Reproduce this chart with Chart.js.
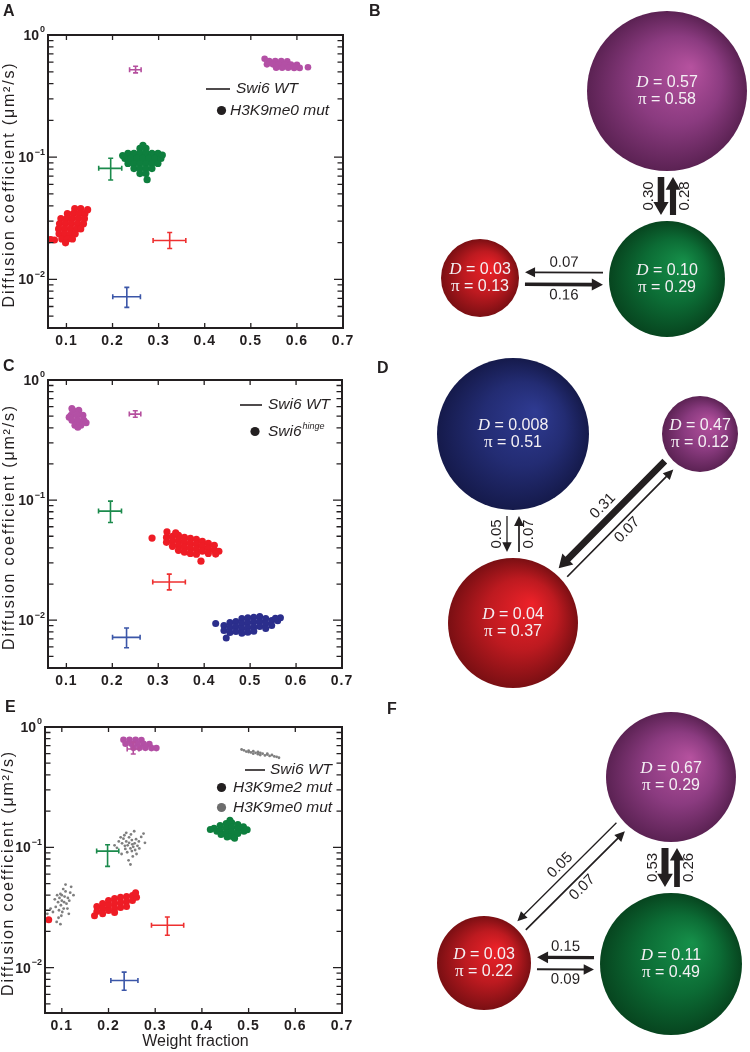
<!DOCTYPE html>
<html>
<head>
<meta charset="utf-8">
<script src="https://cdn.jsdelivr.net/npm/chart.js@4.4.1/dist/chart.umd.min.js"></script>
<style>
  body { margin: 0; background: #fff; }
  #fig { position: relative; width: 750px; height: 1052px; overflow: hidden; }
  .panel { position: absolute; }
  .tag { position: absolute; font: bold 16px Arial, "Liberation Sans", sans-serif; line-height: 16px; color: #231f20; }
</style>
</head>
<body>
<div id="fig">
  <div class="panel" style="left:0;top:0;width:370px;height:352px"><canvas id="chartA"></canvas></div>
  <div class="panel" style="left:0;top:340px;width:370px;height:352px"><canvas id="chartC"></canvas></div>
  <div class="panel" style="left:0;top:680px;width:370px;height:372px"><canvas id="chartE"></canvas></div>
  <div class="panel" style="left:370px;top:0;width:380px;height:340px"><canvas id="chartB"></canvas></div>
  <div class="panel" style="left:370px;top:340px;width:380px;height:352px"><canvas id="chartD"></canvas></div>
  <div class="panel" style="left:370px;top:680px;width:380px;height:372px"><canvas id="chartF"></canvas></div>
  <div class="tag" style="left:3px;top:3px">A</div>
  <div class="tag" style="left:369px;top:3px">B</div>
  <div class="tag" style="left:3px;top:358px">C</div>
  <div class="tag" style="left:377px;top:360px">D</div>
  <div class="tag" style="left:5px;top:699px">E</div>
  <div class="tag" style="left:387px;top:701px">F</div>
</div>
<script>
const INK = '#231f20';
const SANS = 'Arial, "Liberation Sans", sans-serif';
const SERIF = '"Liberation Serif", "Times New Roman", serif';

// axis ticks
const xTickVals = [0.1, 0.2, 0.3, 0.4, 0.5, 0.6, 0.7];
const yTickVals = [0.01, 0.1, 1];
const yTickText = ['10^−2', '10^−1', '10^0'];

// Swi6 WT fits: magenta, green, red, blue
const wtColors = ['#b54f9e', '#1b8a4c', '#ee3030', '#3b56a8'];
const wtX   = [0.250, 0.196, 0.324, 0.231];
const wtY   = [0.52, 0.081, 0.0208, 0.0072];
const wtXlo = [0.237, 0.170, 0.288, 0.2005];
const wtXhi = [0.262, 0.220, 0.359, 0.2605];
const wtYlo = [0.49, 0.065, 0.0179, 0.0059];
const wtYhi = [0.555, 0.098, 0.0242, 0.0086];

const wtEX   = [0.253, 0.198, 0.326, 0.2335];
const wtEY   = [0.656, 0.093, 0.0225, 0.00783];
const wtEXlo = [0.240, 0.1746, 0.292, 0.205];
const wtEXhi = [0.265, 0.222, 0.361, 0.263];
const wtEYlo = [0.596, 0.0695, 0.0186, 0.0065];
const wtEYhi = [0.745, 0.105, 0.0264, 0.00918];

// A: H3K9me0 mut posterior samples
const aMagenta = [[0.54,0.612],[0.553,0.612],[0.566,0.612],[0.579,0.61],
  [0.535,0.575],[0.548,0.575],[0.561,0.575],[0.574,0.575],[0.587,0.572],[0.6,0.57],
  [0.555,0.54],[0.568,0.54],[0.581,0.54],[0.594,0.538],[0.606,0.538],
  [0.624,0.545],[0.530,0.64]];
const aGreen = [[0.2595,0.118],[0.2725,0.118],
  [0.2335,0.1073],[0.2465,0.1073],[0.2595,0.1073],[0.2725,0.1073],[0.2855,0.1073],[0.2985,0.1073],
  [0.227,0.0977],[0.240,0.0977],[0.253,0.0977],[0.266,0.0977],[0.279,0.0977],[0.292,0.0977],[0.305,0.0977],
  [0.2335,0.0888],[0.2465,0.0888],[0.2595,0.0888],[0.2725,0.0888],[0.2855,0.0888],[0.2985,0.0888],
  [0.2465,0.0807],[0.2595,0.0807],[0.2725,0.0807],[0.2855,0.0807],
  [0.2595,0.0734],[0.2725,0.0734],[0.275,0.0655],[0.308,0.104],[0.222,0.103],[0.266,0.125]];
const aRed = [[0.118,0.0379],[0.131,0.0379],
  [0.102,0.0345],[0.115,0.0345],[0.128,0.0345],[0.140,0.0345],
  [0.088,0.0314],[0.101,0.0314],[0.113,0.0314],[0.126,0.0314],[0.139,0.0314],
  [0.085,0.0285],[0.098,0.0285],[0.111,0.0285],[0.124,0.0285],[0.137,0.0285],
  [0.083,0.0259],[0.096,0.0259],[0.109,0.0259],[0.122,0.0259],[0.131,0.0259],
  [0.084,0.0236],[0.096,0.0236],[0.108,0.0236],[0.119,0.0236],
  [0.090,0.0214],[0.102,0.0214],[0.113,0.0214],[0.098,0.0199],
  [0.066,0.0212],[0.074,0.0210],[0.146,0.0372],[0.061,0.0210]];

// C: Swi6 hinge samples
const cMagenta = [[0.112,0.58],[0.114,0.559],[0.127,0.559],[0.110,0.508],[0.123,0.508],[0.136,0.508],
  [0.112,0.462],[0.125,0.462],[0.138,0.462],[0.1185,0.42],[0.1315,0.42],[0.106,0.49],[0.143,0.44],[0.125,0.405]];
const cRed = [[0.318,0.0489],[0.318,0.0445],
  [0.331,0.0499],[0.331,0.0454],[0.331,0.0412],
  [0.344,0.0508],[0.344,0.0462],[0.344,0.042],[0.344,0.0382],
  [0.357,0.0489],[0.357,0.0445],[0.357,0.0405],[0.357,0.0368],
  [0.370,0.048],[0.370,0.0436],[0.370,0.0397],[0.370,0.036],
  [0.383,0.0471],[0.383,0.0428],[0.383,0.0389],[0.383,0.0354],
  [0.396,0.0453],[0.396,0.0412],[0.396,0.0375],
  [0.409,0.0436],[0.409,0.0397],[0.409,0.036],
  [0.422,0.042],[0.422,0.0382],
  [0.432,0.0375],[0.2865,0.0483],[0.319,0.0544],[0.393,0.031],[0.338,0.0535],[0.425,0.0355]];
const cBlue = [[0.443,0.00903],[0.443,0.00821],
  [0.456,0.00956],[0.456,0.00869],[0.456,0.0079],
  [0.469,0.00974],[0.469,0.00886],[0.469,0.00805],
  [0.482,0.01031],[0.482,0.00938],[0.482,0.00853],[0.482,0.0078],
  [0.495,0.0105],[0.495,0.00956],[0.495,0.00869],[0.495,0.00795],
  [0.508,0.0106],[0.508,0.00965],[0.508,0.00878],[0.508,0.0081],
  [0.521,0.01072],[0.521,0.00974],[0.521,0.00886],
  [0.534,0.01031],[0.534,0.00938],[0.534,0.00853],
  [0.547,0.00993],[0.547,0.00903],
  [0.425,0.0094],[0.566,0.0105],[0.448,0.0071],[0.56,0.0099],[0.555,0.0104]];

// E: H3K9me2 mut (coloured) and H3K9me0 mut (grey)
const eMagenta = [[0.232,0.783],[0.245,0.783],[0.258,0.783],[0.2705,0.78],
  [0.2365,0.725],[0.249,0.725],[0.262,0.725],[0.275,0.725],[0.2875,0.72],
  [0.2535,0.671],[0.2665,0.671],[0.279,0.671],[0.292,0.668],[0.3025,0.668]];
const eGreen = [[0.426,0.144],[0.432,0.136],
  [0.439,0.152],[0.439,0.138],[0.441,0.128],
  [0.452,0.158],[0.452,0.145],[0.452,0.132],[0.454,0.122],
  [0.464,0.16],[0.464,0.147],[0.464,0.134],[0.465,0.123],
  [0.477,0.155],[0.477,0.142],[0.477,0.13],
  [0.489,0.148],[0.49,0.136],
  [0.418,0.141],[0.497,0.14],[0.46,0.168],[0.47,0.119]];
const eRed = [[0.175,0.0322],[0.175,0.0293],
  [0.1874,0.0341],[0.1874,0.031],[0.1874,0.0281],
  [0.2,0.0362],[0.2,0.0328],[0.2,0.0299],
  [0.213,0.0376],[0.213,0.0341],[0.213,0.031],[0.213,0.0287],
  [0.2258,0.0384],[0.2258,0.0348],[0.2258,0.0316],
  [0.2386,0.0391],[0.2386,0.0355],[0.2386,0.0322],
  [0.2513,0.0398],[0.2513,0.0362],
  [0.26,0.0384],[0.072,0.025],[0.17,0.027],[0.258,0.042]];
const eGreyTop = [[0.49,0.64],[0.5,0.635],[0.51,0.63],[0.505,0.615],[0.515,0.61],[0.525,0.61],[0.52,0.595],
  [0.53,0.6],[0.54,0.59],[0.535,0.58],[0.545,0.575],[0.55,0.585],[0.5,0.62],[0.495,0.625],[0.51,0.6],
  [0.525,0.585],[0.555,0.57],[0.56,0.565],[0.485,0.65],[0.565,0.555],[0.54,0.6],[0.52,0.62]];
const eGreyMid = [[0.232,0.118],[0.238,0.112],[0.244,0.121],[0.25,0.115],[0.256,0.108],[0.241,0.104],
  [0.247,0.098],[0.253,0.101],[0.236,0.097],[0.259,0.117],[0.262,0.103],[0.229,0.108],[0.244,0.109],
  [0.25,0.093],[0.24,0.091],[0.257,0.095],[0.265,0.112],[0.234,0.126],[0.248,0.128],[0.222,0.112],
  [0.218,0.099],[0.27,0.122],[0.275,0.13],[0.213,0.104],[0.252,0.084],[0.243,0.078],[0.26,0.088],
  [0.228,0.088],[0.266,0.098],[0.238,0.132],[0.255,0.136],[0.247,0.072],[0.278,0.109],[0.226,0.121],
  [0.235,0.103],[0.251,0.106]];
const eGreyLeft = [[0.095,0.038],[0.1,0.036],[0.106,0.039],[0.11,0.034],[0.098,0.033],[0.104,0.031],
  [0.092,0.035],[0.113,0.038],[0.108,0.043],[0.097,0.041],[0.101,0.029],[0.094,0.03],[0.116,0.036],
  [0.09,0.04],[0.103,0.045],[0.118,0.042],[0.087,0.032],[0.112,0.031],[0.099,0.027],[0.093,0.026],
  [0.12,0.047],[0.085,0.037],[0.108,0.049],[0.081,0.029],[0.125,0.04],[0.089,0.024],[0.097,0.023],
  [0.076,0.031],[0.115,0.028],[0.105,0.035],[0.1,0.04],[0.069,0.028]];

// B, D, F: state models
const bStates = ['magenta', 'green', 'red'];
const bD  = [0.57, 0.10, 0.03];
const bPi = [0.58, 0.29, 0.13];
const bRates = [[0, 1, 0.30], [1, 0, 0.28], [1, 2, 0.07], [2, 1, 0.16]];

const dStates = ['blue', 'magenta', 'red'];
const dD  = [0.008, 0.47, 0.04];
const dPi = [0.51, 0.12, 0.37];
const dRates = [[0, 2, 0.05], [2, 0, 0.07], [1, 2, 0.31], [2, 1, 0.07]];

const fStates = ['magenta', 'green', 'red'];
const fD  = [0.67, 0.11, 0.03];
const fPi = [0.29, 0.49, 0.22];
const fRates = [[0, 1, 0.53], [1, 0, 0.26], [0, 2, 0.05], [2, 0, 0.07], [1, 2, 0.15], [2, 1, 0.09]];

// ---------- scatter panels ----------
const cloudColor = { magenta: '#b350a5', green: '#0e7f3e', red: '#ee1c25', blue: '#2b2e8c', grey: '#7f7f7f' };

function cloud(pairs, color, r) {
  return { data: pairs.map(([x, y]) => ({ x, y })), backgroundColor: color, borderWidth: 0, pointRadius: r, pointHoverRadius: r };
}
function wtSet(X, Y, XL, XH, YL, YH) {
  return { data: X.map((x, i) => ({ x, y: Y[i], xl: XL[i], xh: XH[i], yl: YL[i], yh: YH[i] })), pointRadius: 0, errorBars: true };
}
function logTicks(min) {
  const out = [];
  for (let e = -3; e <= 0; e++) for (let m = 1; m <= 9; m++) {
    const v = Number((m * Math.pow(10, e)).toPrecision(6));
    if (v >= min && v <= 1) out.push(v);
  }
  return out;
}

function scatterDecor(box) {
  return {
    id: 'scatterDecor',
    beforeDraw(chart) { chart.ctx.letterSpacing = '1px'; },
    afterDatasetsDraw(chart) {
      const { ctx, scales: { x, y } } = chart;
      ctx.save();
      ctx.lineWidth = 1.6;
      chart.data.datasets.forEach(ds => {
        if (!ds.errorBars) return;
        ds.data.forEach((p, i) => {
          const px = x.getPixelForValue(p.x), py = y.getPixelForValue(p.y);
          const x0 = x.getPixelForValue(p.xl), x1 = x.getPixelForValue(p.xh);
          const y0 = y.getPixelForValue(p.yl), y1 = y.getPixelForValue(p.yh);
          const c = 2.5;
          ctx.strokeStyle = wtColors[i];
          ctx.beginPath();
          ctx.moveTo(x0, py); ctx.lineTo(x1, py);
          ctx.moveTo(px, y0); ctx.lineTo(px, y1);
          ctx.moveTo(x0, py - c); ctx.lineTo(x0, py + c);
          ctx.moveTo(x1, py - c); ctx.lineTo(x1, py + c);
          ctx.moveTo(px - c, y0); ctx.lineTo(px + c, y0);
          ctx.moveTo(px - c, y1); ctx.lineTo(px + c, y1);
          ctx.stroke();
        });
      });
      ctx.restore();
    },
    afterDraw(chart) {
      const { ctx, chartArea: a, scales: { x, y } } = chart;
      ctx.save();
      ctx.letterSpacing = '0px';
      ctx.strokeStyle = INK;
      ctx.lineWidth = 2;
      ctx.strokeRect(a.left, a.top, a.right - a.left, a.bottom - a.top);
      ctx.lineWidth = 1.3;
      ctx.beginPath();
      y.ticks.forEach(t => {
        const py = y.getPixelForValue(t.value);
        const major = Math.abs(Math.log10(t.value) - Math.round(Math.log10(t.value))) < 1e-6;
        const len = major ? 9 : 5.5;
        ctx.moveTo(a.left, py); ctx.lineTo(a.left + len, py);
        ctx.moveTo(a.right, py); ctx.lineTo(a.right - len, py);
      });
      x.ticks.forEach(t => {
        const px = x.getPixelForValue(t.value);
        ctx.moveTo(px, a.bottom); ctx.lineTo(px, a.bottom - 5);
        ctx.moveTo(px, a.top); ctx.lineTo(px, a.top + 5);
      });
      ctx.stroke();

      // y tick labels with superscript exponents
      ctx.fillStyle = INK;
      ctx.textAlign = 'left';
      ctx.textBaseline = 'middle';
      yTickVals.forEach((v, i) => {
        const [base, sup] = yTickText[i].split('^');
        const py = y.getPixelForValue(v);
        ctx.font = 'bold 14px ' + SANS;
        const wb = ctx.measureText(base).width;
        ctx.font = 'bold 9px ' + SANS;
        const ws = ctx.measureText(sup).width;
        const x0 = a.left - 3 - wb - ws - 1;
        ctx.font = 'bold 14px ' + SANS;
        ctx.fillText(base, x0, py + 1);
        ctx.font = 'bold 9px ' + SANS;
        ctx.fillText(sup, x0 + wb + 1, py - 5);
      });

      // axis titles
      ctx.textAlign = 'center';
      ctx.font = '16px ' + SANS;
      ctx.save();
      ctx.letterSpacing = '1.8px';
      ctx.translate(box.titleX, (a.top + a.bottom) / 2 + 3);
      ctx.rotate(-Math.PI / 2);
      ctx.fillText('Diffusion coefficient (μm²/s)', 0, 0);
      ctx.restore();
      if (box.xTitle) ctx.fillText(box.xTitle, (a.left + a.right) / 2 + 2, box.xTitleY);

      // legend
      ctx.textAlign = 'left';
      box.legend.forEach(it => {
        if (it.kind === 'line') {
          ctx.lineWidth = 1.6;
          ctx.beginPath(); ctx.moveTo(it.x, it.y); ctx.lineTo(it.x2, it.y); ctx.stroke();
        } else {
          ctx.fillStyle = it.color;
          ctx.beginPath(); ctx.arc(it.x, it.y, 4.6, 0, Math.PI * 2); ctx.fill();
        }
        ctx.fillStyle = INK;
        ctx.font = 'italic 15.5px ' + SANS;
        ctx.fillText(it.text, it.tx, it.y);
        if (it.sup) {
          const w = ctx.measureText(it.text).width;
          ctx.font = 'italic 9px ' + SANS;
          ctx.fillText(it.sup, it.tx + w + 1, it.y - 5);
        }
      });
      ctx.restore();
    }
  };
}

function scatterPanel(id, sets, box) {
  return new Chart(document.getElementById(id), {
    type: 'scatter',
    data: { datasets: sets },
    options: {
      responsive: true, maintainAspectRatio: false, animation: false, events: [],
      layout: { autoPadding: false, padding: { top: box.top, right: box.right, left: 0, bottom: 0 } },
      plugins: { legend: { display: false }, tooltip: { enabled: false } },
      scales: {
        x: {
          type: 'linear', min: box.xmin, max: 0.7,
          grid: { display: false, drawTicks: false }, border: { display: false },
          afterBuildTicks: s => { s.ticks = xTickVals.map(v => ({ value: v })); },
          afterFit: s => { s.height = box.xh; },
          ticks: { autoSkip: false, maxRotation: 0, padding: 5, color: INK,
                   font: { family: SANS, size: 14, weight: 'bold' }, callback: v => v.toFixed(1) }
        },
        y: {
          type: 'logarithmic', min: box.ymin, max: 1,
          grid: { display: false, drawTicks: false }, border: { display: false },
          afterBuildTicks: s => { s.ticks = logTicks(box.ymin).map(v => ({ value: v })); },
          afterFit: s => { s.width = box.yw; },
          ticks: { display: false, autoSkip: false }
        }
      }
    },
    plugins: [scatterDecor(box)]
  });
}

scatterPanel('chartA', [
  cloud(aMagenta, cloudColor.magenta, 3.3),
  cloud(aGreen, cloudColor.green, 3.6),
  cloud(aRed, cloudColor.red, 3.6),
  wtSet(wtX, wtY, wtXlo, wtXhi, wtYlo, wtYhi)
], { top: 35, right: 27, xh: 24, yw: 48, xmin: 0.06, ymin: 0.004, titleX: 10,
     legend: [
       { kind: 'line', x: 206, x2: 230, y: 89, tx: 236, text: 'Swi6 WT' },
       { kind: 'dot', x: 221.5, y: 110.5, color: INK, tx: 230, text: 'H3K9me0 mut' }
     ] });

scatterPanel('chartC', [
  cloud(cMagenta, cloudColor.magenta, 3.5),
  cloud(cRed, cloudColor.red, 3.6),
  cloud(cBlue, cloudColor.blue, 3.5),
  wtSet(wtX, wtY, wtXlo, wtXhi, wtYlo, wtYhi)
], { top: 40, right: 28, xh: 24, yw: 48, xmin: 0.06, ymin: 0.004, titleX: 10,
     legend: [
       { kind: 'line', x: 240, x2: 262, y: 65, tx: 268, text: 'Swi6 WT' },
       { kind: 'dot', x: 255, y: 91.5, color: INK, tx: 268, text: 'Swi6', sup: 'hinge' }
     ] });

scatterPanel('chartE', [
  cloud(eGreyTop, cloudColor.grey, 1.4),
  cloud(eGreyMid, cloudColor.grey, 1.4),
  cloud(eGreyLeft, cloudColor.grey, 1.4),
  cloud(eMagenta, cloudColor.magenta, 3.3),
  cloud(eGreen, cloudColor.green, 3.5),
  cloud(eRed, cloudColor.red, 3.5),
  wtSet(wtEX, wtEY, wtEXlo, wtEXhi, wtEYlo, wtEYhi)
], { top: 47, right: 28, xh: 39, yw: 45, xmin: 0.064, ymin: 0.0042, titleX: 9,
     xTitle: 'Weight fraction', xTitleY: 362,
     legend: [
       { kind: 'line', x: 245, x2: 265, y: 90, tx: 270, text: 'Swi6 WT' },
       { kind: 'dot', x: 221.5, y: 107.5, color: INK, tx: 233, text: 'H3K9me2 mut' },
       { kind: 'dot', x: 221.5, y: 127.5, color: '#6d6d6d', tx: 233, text: 'H3K9me0 mut' }
     ] });

// ---------- state diagrams ----------
const sphereInk = {
  magenta: ['#b6529f', '#8b3b80', '#5b2253'],
  green:   ['#16904a', '#0c6c35', '#07451f'],
  red:     ['#ee2229', '#bd1a20', '#7a0f13'],
  blue:    ['#2f3b92', '#232c73', '#151a4b']
};
const fmtD = v => v < 0.01 ? v.toFixed(3) : v.toFixed(2);

function textRuns(ctx, runs, cx, cy) {
  let w = 0;
  runs.forEach(([t, f]) => { ctx.font = f; w += ctx.measureText(t).width; });
  let x = cx - w / 2;
  runs.forEach(([t, f]) => { ctx.font = f; ctx.fillText(t, x, cy); x += ctx.measureText(t).width; });
}

function arrow(ctx, sx, sy, ex, ey, w) {
  const L = Math.hypot(ex - sx, ey - sy), ux = (ex - sx) / L, uy = (ey - sy) / L;
  const nx = -uy, ny = ux;
  const hl = 9 + w * 0.6, hw = 4 + w * 0.55;
  const bx = ex - ux * hl, by = ey - uy * hl;
  ctx.beginPath();
  ctx.moveTo(sx + nx * w / 2, sy + ny * w / 2);
  ctx.lineTo(bx + nx * w / 2, by + ny * w / 2);
  ctx.lineTo(bx + nx * hw, by + ny * hw);
  ctx.lineTo(ex, ey);
  ctx.lineTo(bx - nx * hw, by - ny * hw);
  ctx.lineTo(bx - nx * w / 2, by - ny * w / 2);
  ctx.lineTo(sx - nx * w / 2, sy - ny * w / 2);
  ctx.closePath();
  ctx.fill();
}

function diagramDecor(D, PI, rates) {
  return {
    id: 'diagramDecor',
    afterDatasetsDraw(chart) {
      const ctx = chart.ctx;
      const els = chart.getDatasetMeta(0).data;
      const raw = chart.data.datasets[0].data;
      const nodes = els.map((el, i) => ({ x: el.x, y: el.y, r: raw[i].r }));
      ctx.save();
      rates.forEach(([i, j, k]) => {
        const a = nodes[i], b = nodes[j];
        const dx = b.x - a.x, dy = b.y - a.y, L = Math.hypot(dx, dy);
        const ux = dx / L, uy = dy / L, nx = -uy, ny = ux;
        const off = 6, gap = 6;
        const sx = a.x + ux * (a.r + gap) + nx * off, sy = a.y + uy * (a.r + gap) + ny * off;
        const ex = b.x - ux * (b.r + gap) + nx * off, ey = b.y - uy * (b.r + gap) + ny * off;
        const w = Math.min(7, 1.3 + 21 * (k - 0.05));
        ctx.fillStyle = INK;
        arrow(ctx, sx, sy, ex, ey, w);
        let ang = Math.atan2(uy, ux);
        while (ang >= Math.PI / 2 - 1e-6) ang -= Math.PI;
        while (ang < -Math.PI / 2 - 1e-6) ang += Math.PI;
        const lo = w / 2 + 9;
        ctx.save();
        ctx.translate((sx + ex) / 2 + nx * lo, (sy + ey) / 2 + ny * lo);
        ctx.rotate(ang);
        ctx.font = '15px ' + SANS;
        ctx.textAlign = 'center';
        ctx.textBaseline = 'middle';
        ctx.fillText(k.toFixed(2), 0, 0);
        ctx.restore();
      });
      ctx.fillStyle = '#f4f0f4';
      ctx.textAlign = 'left';
      ctx.textBaseline = 'middle';
      nodes.forEach((n, i) => {
        textRuns(ctx, [['D', 'italic 17px ' + SERIF], [' = ' + fmtD(D[i]), '16px ' + SANS]], n.x, n.y - 8);
        textRuns(ctx, [['π', '17px ' + SERIF], [' = ' + PI[i].toFixed(2), '16px ' + SANS]], n.x, n.y + 9);
      });
      ctx.restore();
    }
  };
}

function diagramPanel(id, states, D, PI, rates, lay) {
  return new Chart(document.getElementById(id), {
    type: 'bubble',
    data: {
      datasets: [{
        data: states.map((s, i) => ({ x: lay.x[i], y: lay.y[i], r: lay.r[i] })),
        borderWidth: 0,
        clip: false,
        backgroundColor: c => {
          if (c.type !== 'data') return '#888';
          const ch = c.chart, s = sphereInk[states[c.dataIndex]];
          const px = ch.scales.x.getPixelForValue(c.raw.x), py = ch.scales.y.getPixelForValue(c.raw.y), r = c.raw.r;
          if (!isFinite(px) || !isFinite(py)) return s[1];
          const g = ch.ctx.createRadialGradient(px + 0.3 * r, py - 0.3 * r, 0, px, py, r);
          g.addColorStop(0, s[0]);
          g.addColorStop(0.55, s[1]);
          g.addColorStop(1, s[2]);
          return g;
        }
      }]
    },
    options: {
      responsive: true, maintainAspectRatio: false, animation: false, events: [],
      layout: { autoPadding: false, padding: 0 },
      plugins: { legend: { display: false }, tooltip: { enabled: false } },
      scales: {
        x: { type: 'linear', display: false, min: 0, max: lay.w },
        y: { type: 'linear', display: false, min: 0, max: lay.h, reverse: true }
      }
    },
    plugins: [diagramDecor(D, PI, rates)]
  });
}

// layout of the state spheres (canvas units)
diagramPanel('chartB', bStates, bD, bPi, bRates,
  { w: 380, h: 340, x: [297, 297, 110], y: [91, 279, 278], r: [80, 58, 39] });
diagramPanel('chartD', dStates, dD, dPi, dRates,
  { w: 380, h: 352, x: [143, 330, 143], y: [94, 94, 283], r: [76, 38, 65] });
diagramPanel('chartF', fStates, fD, fPi, fRates,
  { w: 380, h: 372, x: [301, 301, 114], y: [97, 284, 283], r: [65, 71, 47] });
</script>
</body>
</html>
